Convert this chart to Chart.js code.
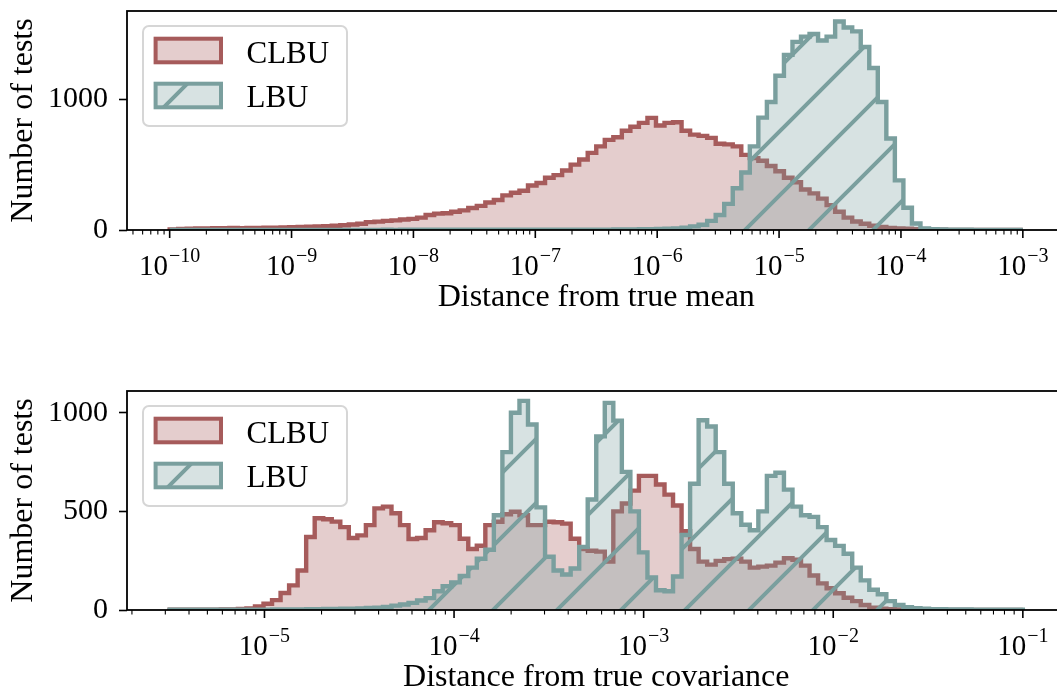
<!DOCTYPE html>
<html>
<head>
<meta charset="utf-8">
<script src="https://cdn.jsdelivr.net/npm/chart.js@4.4.1/dist/chart.umd.min.js"></script>
<style>
  html, body { margin: 0; padding: 0; background: #fff; overflow: hidden; width: 1057px; height: 695px; }
  canvas.plot { position: absolute; left: 0; }
</style>
</head>
<body>
<canvas id="meanChart" class="plot" width="1072" height="320" style="top:0px"></canvas>
<canvas id="covChart" class="plot" width="1072" height="320" style="top:380px"></canvas>
<script>
// histogram counts, 100 log-spaced bins per panel
const meanRange = [-10, -3];   // log10 of first / last bin edge
const covRange = [-5.5, -1];
const meanTicks = [0, 1000];
const covTicks = [0, 500, 1000];

const clbuMean = [
  5, 8, 10, 12, 12, 14, 13, 15, 14, 16,
  16, 18, 17, 20, 22, 24, 25, 27, 30, 33,
  36, 42, 48, 60, 64, 70, 74, 80, 85, 95,
  115, 125, 128, 140, 150, 168, 185, 210, 230, 265,
  285, 300, 340, 360, 400, 420, 455, 500, 540, 590,
  640, 690, 710, 760, 790, 820, 858, 800, 820, 825,
  760, 730, 720, 705, 660, 655, 640, 575, 550, 530,
  490, 450, 400, 365, 310, 280, 240, 190, 140, 95,
  65, 48, 32, 24, 15, 11, 9, 6, 4, 3,
  2, 1, 1, 0, 0, 0, 0, 0, 0, 0
];
const lbuMean = [
  0, 1, 1, 1, 1, 1, 1, 1, 1, 1,
  1, 1, 1, 1, 1, 1, 1, 1, 1, 1,
  1, 1, 1, 1, 1, 2, 1, 2, 2, 2,
  2, 2, 2, 2, 2, 2, 2, 2, 2, 2,
  2, 2, 3, 3, 3, 3, 3, 3, 3, 3,
  3, 3, 4, 5, 5, 6, 7, 8, 10, 12,
  18, 28, 40, 70, 115, 200, 320, 440, 640, 860,
  980, 1180, 1340, 1440, 1480, 1500, 1450, 1480, 1596, 1550,
  1520, 1400, 1240, 980, 700, 380, 170, 50, 12, 6,
  4, 3, 2, 2, 1, 1, 1, 1, 1, 0
];
const clbuCov = [
  1, 1, 1, 2, 2, 2, 3, 3, 5, 8,
  18, 32, 50, 86, 125, 200, 370, 465, 460, 448,
  420, 365, 378, 430, 515, 524, 490, 430, 360, 365,
  404, 445, 440, 430, 361, 309, 326, 430, 447, 485,
  498, 480, 430, 430, 447, 445, 438, 361, 309, 300,
  296, 245, 500, 540, 605, 680, 680, 636, 585, 530,
  400, 309, 245, 230, 249, 258, 260, 245, 215, 220,
  225, 240, 262, 255, 225, 175, 135, 110, 85, 62,
  45, 25, 12, 6, 4, 3, 2, 2, 1, 1,
  1, 0, 0, 0, 0, 0, 0, 0, 0, 0
];
const lbuCov = [
  1, 1, 1, 1, 1, 1, 1, 1, 2, 2,
  2, 2, 3, 3, 3, 3, 4, 4, 5, 5,
  6, 7, 8, 10, 12, 16, 22, 28, 36, 48,
  60, 95, 120, 140, 172, 215, 260, 305, 480, 800,
  1000, 1060, 940, 520, 270, 200, 180, 210, 320, 560,
  880, 1050, 960, 700, 500, 292, 165, 100, 95, 170,
  380, 640, 962, 930, 800, 640, 490, 432, 404, 500,
  680, 696, 610, 524, 480, 472, 420, 355, 325, 285,
  215, 150, 103, 80, 45, 25, 14, 9, 6, 4,
  4, 3, 3, 3, 2, 2, 2, 2, 1, 1
];

const CLBU_EDGE = '#a65b5b';
const CLBU_FILL = 'rgba(166,91,91,0.3)';
const LBU_EDGE = '#7a9f9e';
const LBU_FILL = 'rgba(122,159,158,0.3)';
const SERIF = '"Liberation Serif", "Times New Roman", serif';

Chart.defaults.font.family = SERIF;
Chart.defaults.color = '#000';

function logEdges(lo, hi, n) {
  const edges = [];
  for (let i = 0; i <= n; i++) edges.push(Math.pow(10, lo + (hi - lo) * i / n));
  return edges;
}

// outline of a step histogram: up at the first edge, down at the last
function stepPoints(edges, counts) {
  const pts = [{ x: edges[0], y: 0 }];
  counts.forEach((c, i) => pts.push({ x: edges[i], y: c }));
  pts.push({ x: edges[edges.length - 1], y: 0 });
  return pts;
}

function hatch(fill, line, step, shift) {
  const c = document.createElement('canvas');
  c.width = step; c.height = step;
  const g = c.getContext('2d');
  g.fillStyle = fill;
  g.fillRect(0, 0, step, step);
  g.strokeStyle = line;
  g.lineWidth = 4;
  g.beginPath();
  for (const k of [0, step, 2 * step]) {
    g.moveTo(k + step, -step);
    g.lineTo(k - step * 2, step * 2);
  }
  g.stroke();
  const p = document.createElement('canvas').getContext('2d').createPattern(c, 'repeat');
  p.setTransform(new DOMMatrix([1, 0, 0, 1, shift, 0]));
  return p;
}

const mplFrame = {
  id: 'mplFrame',
  afterDraw(chart) {
    const { ctx, chartArea: a, scales: { x } } = chart;
    ctx.save();
    ctx.strokeStyle = '#000';
    ctx.fillStyle = '#000';
    // log ticks
    const lo = Math.floor(Math.log10(x.min)), hi = Math.ceil(Math.log10(x.max));
    for (let d = lo; d <= hi; d++) {
      for (let k = 1; k <= 9; k++) {
        const v = k * Math.pow(10, d);
        if (v < x.min || v > x.max) continue;
        const px = x.getPixelForValue(v);
        const major = k === 1;
        ctx.lineWidth = major ? 1.6 : 1.1;
        ctx.beginPath();
        ctx.moveTo(px, a.bottom);
        ctx.lineTo(px, a.bottom + (major ? 8 : 4.5));
        ctx.stroke();
        if (major) {
          ctx.font = '29px ' + SERIF;
          const base = '10', exp = '\u2212' + Math.abs(d);
          const wb = ctx.measureText(base).width;
          ctx.font = '20px ' + SERIF;
          const we = ctx.measureText(exp).width;
          const x0 = px - (wb + 1 + we) / 2;
          ctx.textAlign = 'left';
          ctx.textBaseline = 'alphabetic';
          ctx.font = '29px ' + SERIF;
          ctx.fillText(base, x0, a.bottom + 45);
          ctx.font = '20px ' + SERIF;
          ctx.fillText(exp, x0 + wb + 1, a.bottom + 32);
        }
      }
    }
    // spines
    ctx.lineWidth = 1.8;
    ctx.strokeRect(a.left, a.top, a.right - a.left, a.bottom - a.top);

    // legend box
    const lx = a.left + 16, ly = a.top + 15, lw = 204, lh = 100;
    ctx.beginPath();
    ctx.roundRect(lx, ly, lw, lh, 6);
    ctx.fillStyle = 'rgba(255,255,255,0.8)';
    ctx.fill();
    ctx.strokeStyle = '#d6d6d6';
    ctx.lineWidth = 2;
    ctx.stroke();
    chart.data.datasets.forEach((ds, i) => {
      const sy = ly + 12.7 + i * 45;
      ctx.fillStyle = ds.backgroundColor;
      ctx.fillRect(lx + 12.6, sy, 65.4, 23.6);
      ctx.strokeStyle = ds.borderColor;
      ctx.lineWidth = 4;
      ctx.strokeRect(lx + 12.6, sy, 65.4, 23.6);
      ctx.fillStyle = '#000';
      ctx.font = '31px ' + SERIF;
      ctx.textAlign = 'left';
      ctx.textBaseline = 'alphabetic';
      ctx.fillText(ds.label, lx + 103.5, ly + 36.7 + i * 44);
    });
    ctx.restore();
  }
};

function histChart(id, range, clbu, lbu, yMax, yTicks, xTitle, shift) {
  const edges = logEdges(range[0], range[1], clbu.length);
  const pad = (range[1] - range[0]) * 0.05;
  return new Chart(document.getElementById(id), {
    type: 'line',
    plugins: [mplFrame],
    data: {
      datasets: [{
        label: 'CLBU',
        data: stepPoints(edges, clbu),
        borderColor: CLBU_EDGE,
        backgroundColor: CLBU_FILL,
        fill: 'origin',
        stepped: true,
        pointRadius: 0,
        borderWidth: 4.4,
        order: 2,
      }, {
        label: 'LBU',
        data: stepPoints(edges, lbu),
        borderColor: LBU_EDGE,
        backgroundColor: hatch(LBU_FILL, LBU_EDGE, 64, shift),
        fill: 'origin',
        stepped: true,
        pointRadius: 0,
        borderWidth: 4.4,
        order: 1,
      }],
    },
    options: {
      responsive: false,
      animation: false,
      events: [],
      layout: { padding: { top: 11, right: 6.5, left: 0, bottom: 0 } },
      plugins: { legend: { display: false }, tooltip: { enabled: false } },
      scales: {
        x: {
          type: 'logarithmic',
          min: Math.pow(10, range[0] - pad),
          max: Math.pow(10, range[1] + pad),
          afterFit: (s) => { s.height = 90; s.paddingLeft = 0; s.paddingRight = 0; },
          ticks: { display: false },
          grid: { display: false },
          border: { display: false },
          title: { display: true, text: xTitle, font: { size: 32 }, padding: { top: 0, bottom: 3 } },
        },
        y: {
          min: 0,
          max: yMax,
          afterFit: (s) => { s.width = 127; s.paddingTop = 0; s.paddingBottom = 0; },
          afterBuildTicks: (s) => { s.ticks = yTicks.map((v) => ({ value: v })); },
          ticks: { autoSkip: false, font: { size: 30 }, padding: 11, callback: (v) => String(v) },
          grid: { drawOnChartArea: false, tickLength: 8, tickColor: '#000', tickWidth: 1.6 },
          border: { display: false },
          title: { display: true, text: 'Number of tests', font: { size: 32 }, padding: { top: 4 } },
        },
      },
    },
  });
}

histChart('meanChart', meanRange, clbuMean, lbuMean, 1676, meanTicks, 'Distance from true mean', 15);
histChart('covChart', covRange, clbuCov, lbuCov, 1110, covTicks, 'Distance from true covariance', 19);
</script>
</body>
</html>
